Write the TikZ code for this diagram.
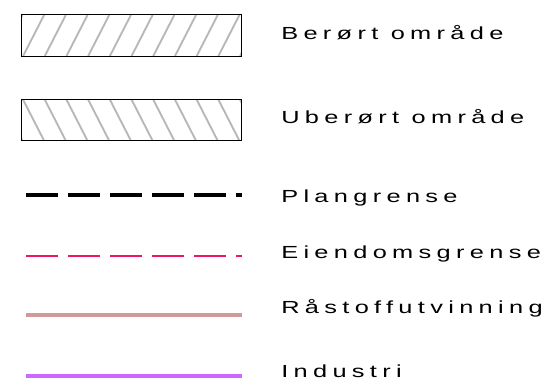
\documentclass[tikz,border=0pt]{standalone}
\usepackage{fontspec}
\setmainfont{Liberation Sans}[LetterSpace=21]
\definecolor{hatchgray}{gray}{0.72}
\definecolor{eiendomred}{RGB}{240,20,100}
\definecolor{raastoffrose}{RGB}{208,154,154}
\definecolor{industrililla}{RGB}{204,102,255}
\begin{document}
\begin{tikzpicture}[x=1pt, y=-1pt, font=\fontsize{17.5}{20}\selectfont,
    legendtext/.style={anchor=base west, inner sep=0pt, xscale=1.45, transform shape},
    legendbox/.style={minimum width=219pt, minimum height=41pt, inner sep=0pt},
    hatch/.style={line width=1.9pt, hatchgray},
    boundary/.style={dash pattern=on 32pt off 10pt}]
    \useasboundingbox (0,0) rectangle (558,388);
    % hatched boxes
    \node [legendbox] (beroert) at (131.5,35.3) {};
    \node [legendbox] (uberoert) at (131.5,119.8) {};
    \begin{scope}
        \clip (beroert.south west) rectangle (beroert.north east);
        \foreach \k in {-1,...,10}
            \draw [hatch] ([xshift=\k*21.7pt+1.3pt]beroert.south west) -- ++(21,-41);
    \end{scope}
    \begin{scope}
        \clip (uberoert.south west) rectangle (uberoert.north east);
        \foreach \k in {-1,...,10}
            \draw [hatch] ([xshift=\k*21.7pt+1pt]uberoert.north west) -- ++(21,41);
    \end{scope}
    \draw [line width=1pt] (beroert.south west) rectangle (beroert.north east);
    \draw [line width=1pt] (uberoert.south west) rectangle (uberoert.north east);
    % line symbols
    \coordinate (planA) at (26,195);
    \coordinate (planB) at (241.7,195);
    \coordinate (eiendomA) at (26,255.7);
    \coordinate (eiendomB) at (241.7,255.7);
    \coordinate (raastoffA) at (26,315);
    \coordinate (raastoffB) at (241.7,315);
    \coordinate (industriA) at (26,375.7);
    \coordinate (industriB) at (241.7,375.7);
    \draw [boundary, line width=4pt] (planA) -- (planB);
    \draw [boundary, line width=1.7pt, draw=eiendomred] (eiendomA) -- (eiendomB);
    \draw [line width=4pt, draw=raastoffrose] (raastoffA) -- (raastoffB);
    \draw [line width=4pt, draw=industrililla] (industriA) -- (industriB);
    % texts
    \node [legendtext] (beroerttext) at (281,39) {Berørt område};
    \node [legendtext] (uberoerttext) at (281,123) {Uberørt område};
    \node [legendtext] (plantext) at (281,202) {Plangrense};
    \node [legendtext] (eiendomtext) at (281,258) {Eiendomsgrense};
    \node [legendtext] (raastofftext) at (281,313) {Råstoffutvinning};
    \node [legendtext] (industritext) at (281,377) {Industri};
\end{tikzpicture}
\end{document}
